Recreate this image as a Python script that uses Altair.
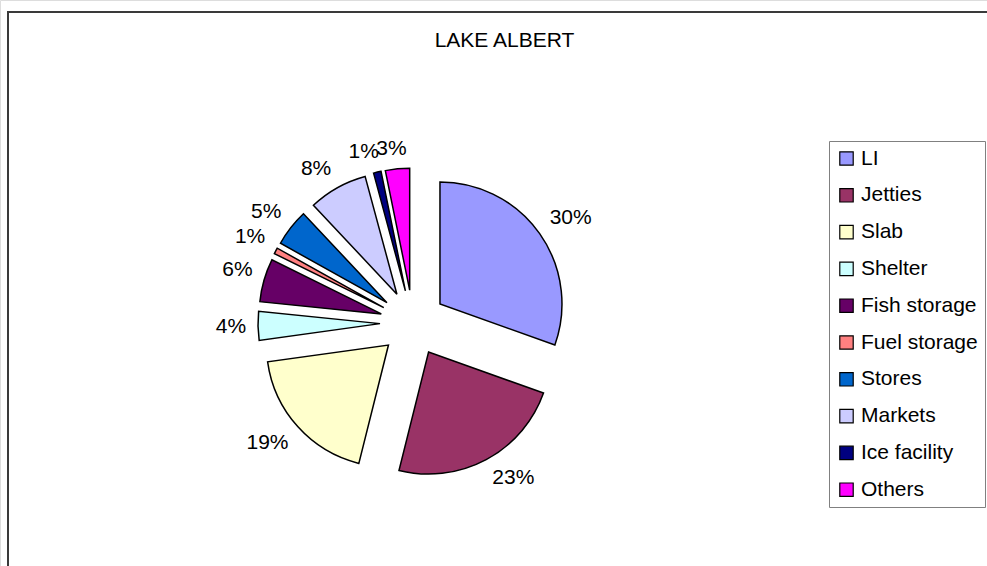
import altair as alt
import pandas as pd

# ---- data ----
categories = ["LI", "Jetties", "Slab", "Shelter", "Fish storage",
              "Fuel storage", "Stores", "Markets", "Ice facility", "Others"]
values = [30.45, 23.45, 18.9, 3.8, 5.7, 0.8, 4.9, 7.8, 1.0, 3.2]
colors = ["#9999FF", "#993366", "#FFFFCC", "#CCFFFF", "#660066",
          "#FF8080", "#0066CC", "#CCCCFF", "#000080", "#FF00FF"]
title_text = "LAKE ALBERT"

# ---- layout / style ----
W, H = 987, 566
CX, CY = 413, 323      # pie centre
R = 122                # pie radius
EXPLODE = 33           # explode distance of each slice
GAP = 11               # label gap
HH = 9                 # label half height
FONT = "Liberation Sans"

df = pd.DataFrame({"category": categories, "value": values,
                   "order": list(range(len(categories)))})

base = (
    alt.Chart(df)
    .transform_joinaggregate(total="sum(value)")
    .transform_window(cum="sum(value)", sort=[alt.SortField("order")], frame=[None, 0])
    .transform_calculate(start="2*PI*(datum.cum - datum.value)/datum.total")
    .transform_calculate(end="2*PI*datum.cum/datum.total")
    .transform_calculate(mid="(datum.start + datum.end)/2")
    .transform_calculate(ax=f"{CX} + {EXPLODE}*sin(datum.mid)")
    .transform_calculate(ay=f"{CY} - {EXPLODE}*cos(datum.mid)")
    .transform_calculate(pct="datum.value/datum.total")
    .transform_calculate(label="format(datum.pct, '.0%')")
    .transform_calculate(hw="6*length(datum.label) + 4")
    .transform_calculate(
        lx=f"datum.ax + {R + GAP}*sin(datum.mid) + clamp(3*sin(datum.mid), -1, 1)*datum.hw")
    .transform_calculate(
        ly=f"datum.ay - {R + GAP}*cos(datum.mid) - clamp(3*cos(datum.mid), -1, 1)*{HH}")
)

frame = alt.Chart(df).mark_rect(filled=False, stroke="#3a3a3a", strokeWidth=2).encode(
    x=alt.value(8), x2=alt.value(W + 20), y=alt.value(12), y2=alt.value(H + 20)
).transform_filter("datum.order == 0")

arcs = base.mark_arc(outerRadius=R, stroke="black", strokeWidth=1.5).encode(
    theta=alt.Theta("start:Q", scale=None),
    theta2="end:Q",
    x=alt.X("ax:Q", scale=None, axis=None),
    y=alt.Y("ay:Q", scale=None, axis=None),
    color=alt.Color(
        "category:N",
        scale=alt.Scale(domain=categories, range=colors),
        sort=categories,
        legend=alt.Legend(
            title=None, orient="none", legendX=829, legendY=141,
            symbolType="square", symbolSize=180, symbolStrokeColor="black",
            symbolStrokeWidth=1.2, symbolOpacity=1,
            labelFont=FONT, labelFontSize=21, labelColor="black", labelOffset=4,
            rowPadding=14.8, padding=7, strokeColor="#808080", fillColor="white",
            labelLimit=300,
        ),
    ),
    order=alt.Order("order:Q"),
)

labels = base.mark_text(font=FONT, fontSize=21, color="black",
                        align="center", baseline="middle").encode(
    x=alt.X("lx:Q", scale=None, axis=None),
    y=alt.Y("ly:Q", scale=None, axis=None),
    text="label:N",
)

chart = alt.layer(frame, arcs, labels).properties(
    width=W, height=H,
    title=alt.Title(title_text, font=FONT, fontSize=21, fontWeight="normal",
                    color="black", anchor="middle", baseline="middle",
                    offset=-62, dx=11),
    autosize=alt.AutoSizeParams(type="none"),
    padding=0,
).configure_view(stroke=None).configure(background="white")

chart.save("out.html", embed_options={"renderer": "svg", "actions": False})
